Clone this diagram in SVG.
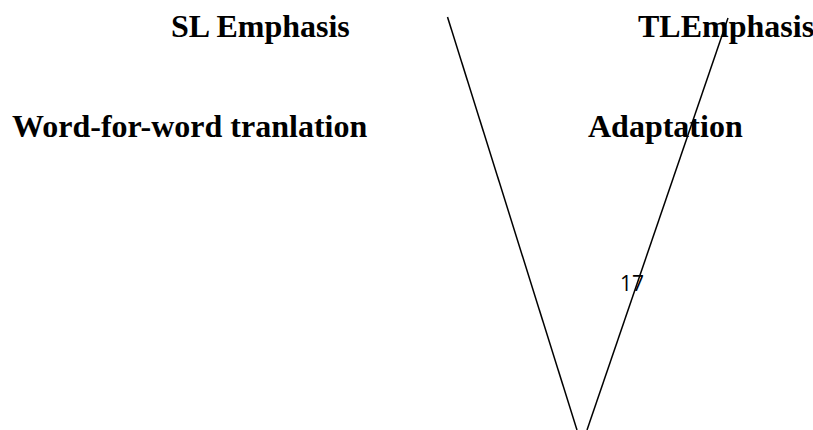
<svg xmlns="http://www.w3.org/2000/svg" width="813" height="430" viewBox="0 0 813 430">
  <style>
    .label { font-family: "Liberation Serif", "Times New Roman", serif; font-weight: bold; font-size: 32px; fill: #000; }
    .page { font-family: "Open Sans", "Liberation Sans", sans-serif; font-size: 21px; fill: #000; }
    .edge { stroke: #000; stroke-width: 1.5; fill: none; }
  </style>
  <rect width="813" height="430" fill="#fff"/>

  <g id="sl-emphasis">
    <text class="label" x="171" y="37">SL Emphasis</text>
  </g>
  <g id="tl-emphasis">
    <text class="label" x="638" y="37">TLEmphasis</text>
  </g>
  <g id="word-for-word">
    <text class="label" x="12" y="137">Word-for-word tranlation</text>
  </g>
  <g id="adaptation">
    <text class="label" x="588" y="137">Adaptation</text>
  </g>
  <g id="page-number">
    <text class="page" x="620" y="291">17</text>
  </g>

  <!-- the two arms of the V -->
  <g id="connectors">
    <line class="edge" x1="447.5" y1="17" x2="577" y2="430"/>
    <line class="edge" x1="728" y1="18" x2="587" y2="430"/>
  </g>
</svg>
